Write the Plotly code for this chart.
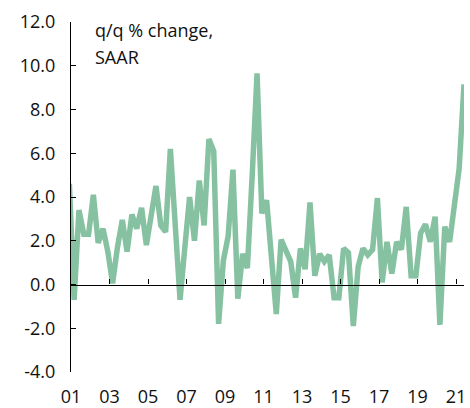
import pandas as pd
import plotly.graph_objects as go

# Quarterly series, first value is 2000Q4 (clipped at the axis), last is 2021Q3
start_quarter = "2000Q4"
values = [
    4.6,
    -0.7, 3.4, 2.3, 2.3, 4.1, 1.9, 2.55, 1.5, 0.05, 1.7,
    2.95, 1.5, 3.2, 2.55, 3.5, 1.8, 3.3, 4.5, 2.7, 2.4,
    6.2, 2.8, -0.7, 1.7, 4.0, 2.0, 4.75, 2.7, 6.65, 6.1,
    -1.8, 1.1, 2.2, 5.25, -0.65, 1.4, 0.75, 5.0, 9.65, 3.25,
    3.85, 1.25, -1.35, 2.05, 1.5, 1.05, -0.6, 1.65, 0.7, 3.75,
    0.4, 1.4, 1.05, 1.35, -0.6, -0.6, 1.65, 1.45, -1.9, 0.8,
    1.65, 1.35, 1.6, 3.95, 0.1, 1.95, 0.5, 1.95, 1.6, 3.55,
    0.4, 0.4, 2.35, 2.75, 1.95, 3.1, -1.85, 2.65, 1.95, 3.6,
    5.3, 9.15,
]
quarters = pd.period_range(start_quarter, periods=len(values), freq="Q")
dates = quarters.to_timestamp(how="start") + pd.DateOffset(months=2)
date_str = [d.strftime("%Y-%m-%d") for d in dates]

x_tick_years = [2001, 2003, 2005, 2007, 2009, 2011, 2013, 2015, 2017, 2019, 2021]
x_tick_labels = ["01", "03", "05", "07", "09", "11", "13", "15", "17", "19", "21"]
y_tick_vals = [-4, -2, 0, 2, 4, 6, 8, 10, 12]
y_tick_labels = ["-4.0", "-2.0", "0.0", "2.0", "4.0", "6.0", "8.0", "10.0", "12.0"]
label_lines = ["q/q % change,", "SAAR"]

x_tick_dates = [f"{y}-01-01" for y in x_tick_years]
x_range = ["2001-01-01", date_str[-1]]
y_range = [-4, 12]

FONT = "Open Sans"
FS = 18
TXT = "#111111"
LINE = "#86c2a1"

fig = go.Figure()
fig.add_trace(go.Scatter(
    x=date_str, y=values, mode="lines",
    line=dict(color=LINE, width=5.5),
    hoverinfo="skip", showlegend=False,
))
# invisible helper so the zero-line axis (xaxis2) is drawn
fig.add_trace(go.Scatter(x=[date_str[1]], y=[0], xaxis="x2", mode="markers",
                         marker=dict(opacity=0), hoverinfo="skip", showlegend=False))

fig.update_layout(
    width=470, height=408,
    margin=dict(l=71, r=6, t=22, b=36),
    paper_bgcolor="white", plot_bgcolor="white",
    font=dict(family=FONT, size=FS, color=TXT),
    xaxis=dict(
        type="date", range=x_range, autorange=False, automargin=False,
        showgrid=False, zeroline=False, showline=False,
        tickmode="array", tickvals=x_tick_dates, ticktext=x_tick_labels, ticks="",
        ticklabelstandoff=12, tickfont=dict(family=FONT, size=FS, color=TXT),
    ),
    xaxis2=dict(
        type="date", range=x_range, autorange=False, automargin=False,
        overlaying="x", anchor="free",
        position=(0 - y_range[0]) / (y_range[1] - y_range[0]),
        showgrid=False, zeroline=False, showline=True, linecolor="black",
        linewidth=1.3, ticks="inside", ticklen=5, tickwidth=1.3,
        tickcolor="black", tickmode="array", tickvals=x_tick_dates,
        showticklabels=False,
    ),
    yaxis=dict(
        range=y_range, autorange=False, automargin=False,
        showgrid=False, zeroline=False, showline=True,
        linecolor="black", linewidth=1.3, ticks="inside", ticklen=5,
        tickwidth=1.3, tickcolor="black", tickmode="array", tickvals=y_tick_vals,
        ticktext=y_tick_labels, ticklabelstandoff=11,
        tickfont=dict(family=FONT, size=FS, color=TXT),
    ),
)

for line_text, ypix in zip(label_lines, [30, 57]):
    fig.add_annotation(
        text=line_text, xref="paper", yref="paper",
        x=(93 - 71) / (470 - 71 - 6), y=1 - (ypix - 22) / (408 - 22 - 36),
        xanchor="left", yanchor="middle", showarrow=False,
        font=dict(family=FONT, size=FS, color=TXT),
    )

fig.write_html(
    "out.html",
    config={"displayModeBar": False},
    post_script="document.body.style.margin='0';document.body.style.overflow='hidden';",
)
